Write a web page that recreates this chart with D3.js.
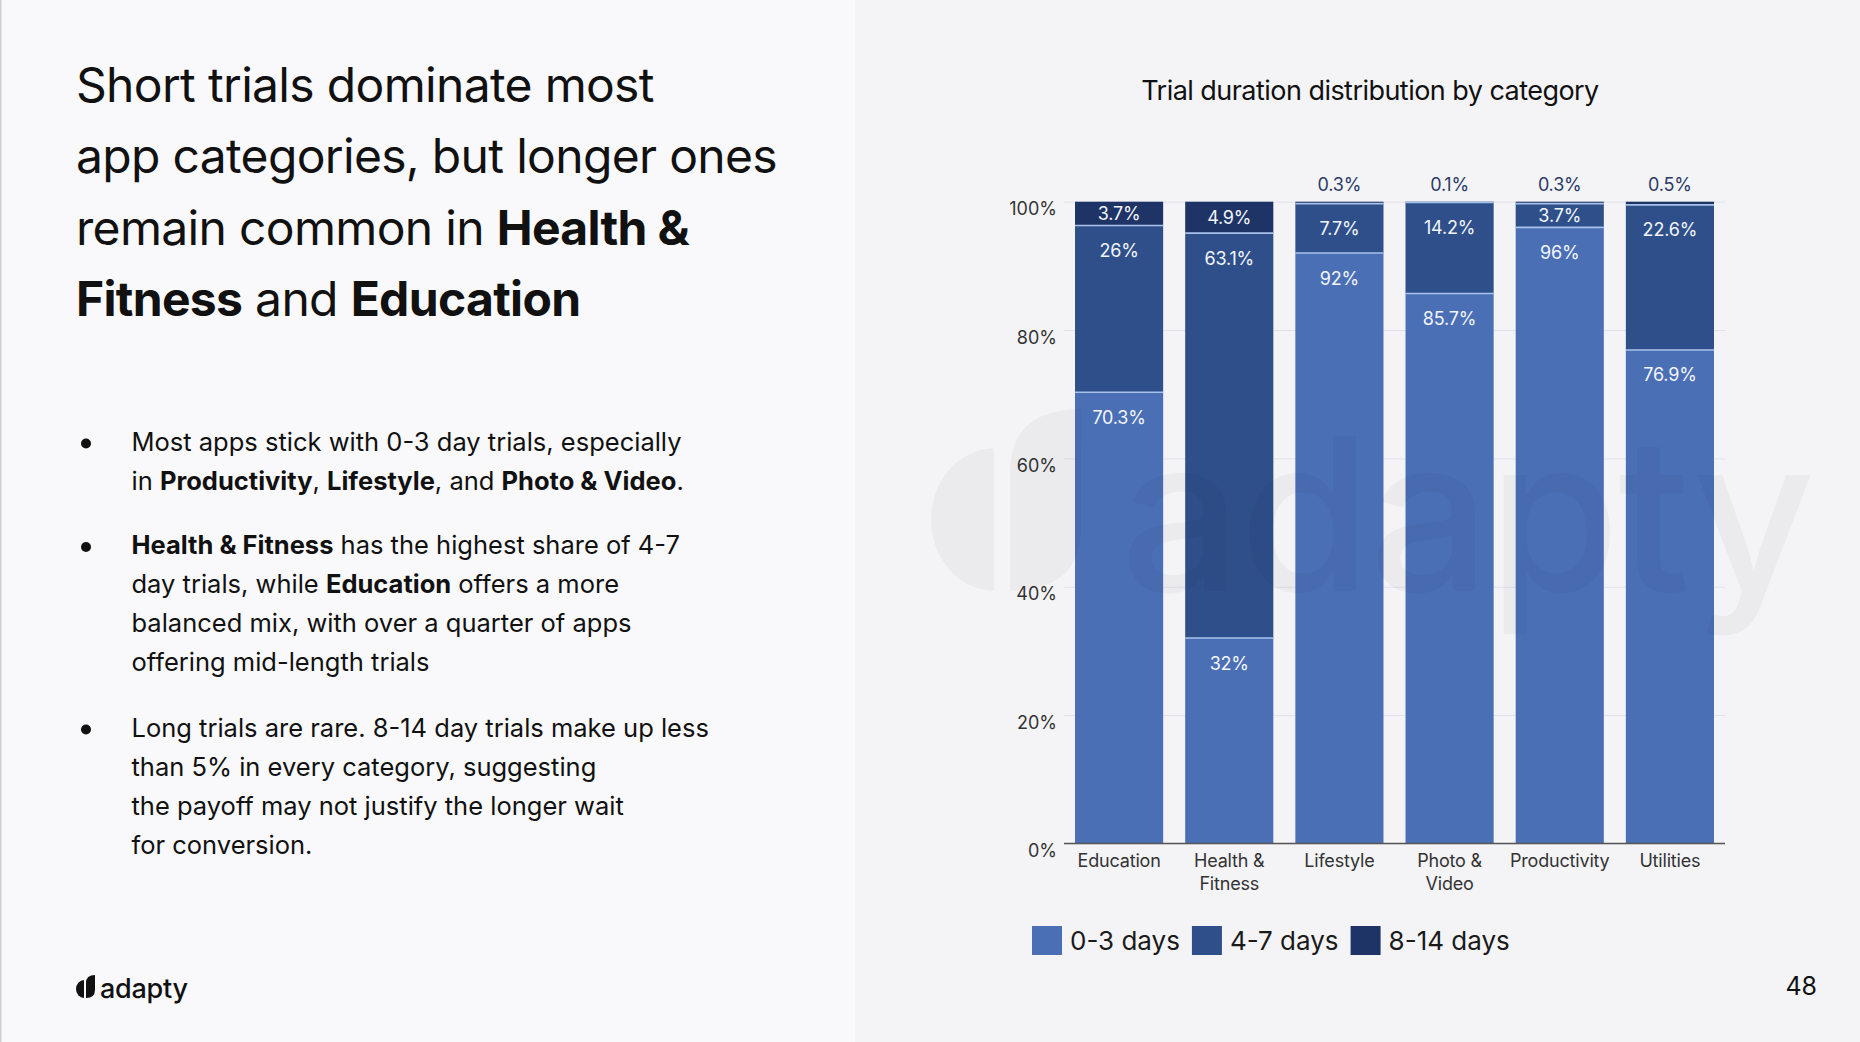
<!DOCTYPE html>
<html>
<head>
<meta charset="utf-8">
<script src="https://cdn.jsdelivr.net/npm/d3@7"></script>
<style>
  html, body { margin: 0; padding: 0; background: #f4f4f7; }
  svg { display: block; font-family: Inter, "Noto Sans", sans-serif; }
</style>
</head>
<body>
<svg id="slide" width="1860" height="1042"></svg>
<script>
// dados do grafico
const categorias = ["Education", "Health & Fitness", "Lifestyle", "Photo & Video", "Productivity", "Utilities"];
const rotulosCategoria = [["Education"], ["Health &", "Fitness"], ["Lifestyle"], ["Photo &", "Video"], ["Productivity"], ["Utilities"]];
const series = ["0-3 days", "4-7 days", "8-14 days"];
const dias0a3 = [70.3, 32, 92, 85.7, 96, 76.9];
const dias4a7 = [26, 63.1, 7.7, 14.2, 3.7, 22.6];
const dias8a14 = [3.7, 4.9, 0.3, 0.1, 0.3, 0.5];
const ticksY = [0, 20, 40, 60, 80, 100];
const cores = ["#4a6fb5", "#2f4f8a", "#1f3466"];

const tituloGrafico = "Trial duration distribution by category";
const tituloSlide = [
    [["Short trials dominate most", false]],
    [["app categories, but longer ones", false]],
    [["remain common in ", false], ["Health &", true]],
    [["Fitness", true], [" and ", false], ["Education", true]]
];
const bullets = [
    [
        [["Most apps stick with 0-3 day trials, especially", false]],
        [["in ", false], ["Productivity", true], [", ", false], ["Lifestyle", true], [", and ", false], ["Photo & Video", true], [".", false]]
    ],
    [
        [["Health & Fitness", true], [" has the highest share of 4-7", false]],
        [["day trials, while ", false], ["Education", true], [" offers a more", false]],
        [["balanced mix, with over a quarter of apps", false]],
        [["offering mid-length trials", false]]
    ],
    [
        [["Long trials are rare. 8-14 day trials make up less", false]],
        [["than 5% in every category, suggesting", false]],
        [["the payoff may not justify the longer wait", false]],
        [["for conversion.", false]]
    ]
];
const numeroPagina = "48";

let dados = categorias.map((c, i) => ({
    categoria: c,
    "0-3 days": dias0a3[i],
    "4-7 days": dias4a7[i],
    "8-14 days": dias8a14[i]
}));

var svg = d3.select("#slide"),
    width = +svg.attr("width"),
    height = +svg.attr("height");

// fundo
svg.append("rect").attr("width", width).attr("height", height).attr("fill", "#f4f4f7");
svg.append("rect").attr("width", 855).attr("height", height).attr("fill", "#f9f9fb");
svg.append("rect").attr("width", 1.5).attr("height", height).attr("fill", "#cfcfd3");

let escreveLinha = (g, segmentos, x, y, tamanho, espaco) => {
    let t = g.append("text")
        .attr("x", x)
        .attr("y", y)
        .attr("font-size", tamanho)
        .attr("fill", "#111")
        .attr("letter-spacing", espaco);
    segmentos.forEach(s => {
        t.append("tspan")
            .attr("font-weight", s[1] ? 700 : 400)
            .text(s[0]);
    });
};

let esquerda = svg.append("g");
tituloSlide.forEach((linha, i) => escreveLinha(esquerda, linha, 76, 102 + i * 71.3, 48, "-0.014em"));

let baseBullets = [450.5, 554, 736.5];
bullets.forEach((b, i) => {
    esquerda.append("circle")
        .attr("cx", 86)
        .attr("cy", baseBullets[i] - 7)
        .attr("r", 5)
        .attr("fill", "#111");
    b.forEach((linha, j) => escreveLinha(esquerda, linha, 131.5, baseBullets[i] + j * 39, 25.5, "0"));
});

let desenhaLogo = (g) => {
    g.append("path").attr("d", "M8,5 A8,9 0 0 0 8,23 Z");
    g.append("path").attr("d", "M10,23 L10,8 Q10,0 19,0 L19,15 Q19,23 10,23 Z");
    g.append("text")
        .attr("x", 24)
        .attr("y", 23)
        .attr("font-size", 27)
        .attr("font-weight", 500)
        .attr("letter-spacing", "-0.01em")
        .text("adapty");
};

let logo = svg.append("g").attr("transform", "translate(76,975)").attr("fill", "#111");
desenhaLogo(logo);

svg.append("text")
    .attr("x", 1817)
    .attr("y", 995)
    .attr("text-anchor", "end")
    .attr("font-size", 25)
    .attr("fill", "#111")
    .text(numeroPagina);

// grafico
var x = d3.scaleBand()
    .domain(categorias)
    .range([1064, 1725])
    .paddingInner(0.2)
    .paddingOuter(0.1);

var y = d3.scaleLinear()
    .domain([0, 100])
    .range([843.4, 201.7]);

var stack = d3.stack().keys(series);
var camadas = stack(dados);

svg.append("text")
    .attr("x", 1370)
    .attr("y", 100)
    .attr("text-anchor", "middle")
    .attr("font-size", 27)
    .attr("fill", "#111")
    .attr("letter-spacing", "-0.02em")
    .text(tituloGrafico);

let grade = svg.append("g")
    .attr("transform", "translate(1064,0)")
    .call(d3.axisLeft(y).tickValues(ticksY).tickSize(-661).tickFormat(d => d + "%"));
grade.select(".domain").remove();
grade.selectAll(".tick line").attr("stroke", "#e1e2e7").attr("stroke-width", 1);
grade.selectAll(".tick text")
    .attr("x", -7)
    .attr("dy", 13)
    .attr("font-size", 18)
    .attr("font-family", "Inter, sans-serif")
    .attr("fill", "#333");

svg.selectAll("g.camada")
    .data(camadas)
    .enter().append("g")
    .attr("class", "camada")
    .attr("fill", (d, i) => cores[i])
    .selectAll("rect")
    .data(d => d)
    .enter().append("rect")
    .attr("x", d => x(d.data.categoria))
    .attr("width", x.bandwidth())
    .attr("y", d => y(d[1]))
    .attr("height", d => y(d[0]) - y(d[1]));

// separadores entre segmentos
svg.append("g")
    .selectAll("line")
    .data(camadas.slice(0, 2).flatMap(c => c))
    .enter().append("line")
    .attr("x1", d => x(d.data.categoria))
    .attr("x2", d => x(d.data.categoria) + x.bandwidth())
    .attr("y1", d => y(d[1]))
    .attr("y2", d => y(d[1]))
    .attr("stroke", "#a9c2ec")
    .attr("stroke-width", 1.6);

svg.append("line")
    .attr("x1", 1064)
    .attr("x2", 1725)
    .attr("y1", y(0))
    .attr("y2", y(0))
    .attr("stroke", "#555")
    .attr("stroke-width", 1.5);

// marca d'agua
let marca = svg.append("g")
    .attr("transform", "translate(931,409) scale(7.9)")
    .attr("fill", "#000")
    .attr("fill-opacity", 0.035);
desenhaLogo(marca);

// rotulos das barras
let rotulos = camadas.flatMap(c => c.map(d => ({ chave: c.key, d: d })));
svg.append("g")
    .attr("font-size", 18)
    .attr("text-anchor", "middle")
    .attr("letter-spacing", "-0.01em")
    .selectAll("text")
    .data(rotulos)
    .enter().append("text")
    .attr("x", r => x(r.d.data.categoria) + x.bandwidth() / 2)
    .attr("y", r => {
        let topo = y(r.d[1]), alt = y(r.d[0]) - y(r.d[1]);
        if (r.d.data[r.chave] < 1) return topo - 11;
        return topo + Math.min(alt / 2, 25) + 6.5;
    })
    .attr("fill", r => r.d.data[r.chave] < 1 ? "#2b3a67" : "#f2f5fc")
    .text(r => r.d.data[r.chave] + "%");

// rotulos do eixo x
let eixoX = svg.append("g")
    .selectAll("text")
    .data(categorias)
    .enter().append("text")
    .attr("x", d => x(d) + x.bandwidth() / 2)
    .attr("y", 866.5)
    .attr("text-anchor", "middle")
    .attr("font-size", 18)
    .attr("fill", "#333")
    .attr("letter-spacing", "-0.01em");
eixoX.selectAll("tspan")
    .data((d, i) => rotulosCategoria[i])
    .enter().append("tspan")
    .attr("x", function() { return this.parentNode.getAttribute("x"); })
    .attr("dy", (d, i) => i == 0 ? 0 : 23.5)
    .text(d => d);

// legenda
let legenda = svg.append("g").attr("transform", "translate(1032,926)");
let posX = 0;
series.forEach((s, i) => {
    let item = legenda.append("g").attr("transform", "translate(" + posX + ",0)");
    item.append("rect")
        .attr("width", 30)
        .attr("height", 29)
        .attr("fill", cores[i]);
    let t = item.append("text")
        .attr("x", 38)
        .attr("y", 24)
        .attr("font-size", 26)
        .attr("fill", "#1a1a1a")
        .text(s);
    posX += 38 + t.node().getComputedTextLength() + 12;
});
</script>
</body>
</html>
